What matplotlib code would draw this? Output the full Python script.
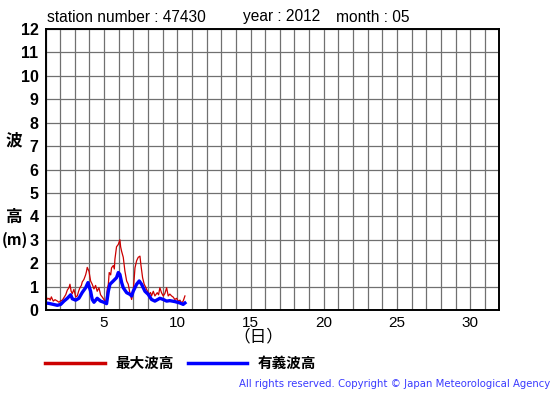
import matplotlib
matplotlib.use("Agg")
import matplotlib.pyplot as plt
from matplotlib.lines import Line2D

plt.rcParams['font.family'] = ['Liberation Sans', 'Noto Sans CJK JP', 'DejaVu Sans']

# Maximum wave height (red)
max_days = [1.0, 1.06, 1.15, 1.24, 1.32, 1.40, 1.53, 1.65, 1.81, 1.92, 2.05, 2.15, 2.28, 2.38, 2.49,
            2.60, 2.67, 2.75, 2.83, 2.94, 3.06, 3.17, 3.26, 3.35, 3.45, 3.51, 3.62, 3.74, 3.80, 3.85,
            3.97, 4.08, 4.19, 4.31, 4.42, 4.53, 4.65, 4.76, 4.88, 4.99, 5.12, 5.22, 5.29, 5.35, 5.45,
            5.51, 5.63, 5.70, 5.74, 5.85, 5.97, 6.08, 6.13, 6.20, 6.31, 6.42, 6.54, 6.65, 6.76, 6.88,
            6.99, 7.11, 7.22, 7.33, 7.45, 7.51, 7.63, 7.74, 7.82, 7.90, 8.08, 8.17, 8.24, 8.36, 8.47,
            8.63, 8.72, 8.81, 8.92, 9.04, 9.15, 9.27, 9.38, 9.49, 9.61, 9.72, 9.83, 9.95, 10.06, 10.18,
            10.29, 10.40, 10.52]
max_vals = [0.55, 0.54, 0.46, 0.50, 0.42, 0.56, 0.38, 0.44, 0.38, 0.33, 0.40, 0.42, 0.55, 0.65, 0.85,
            0.95, 1.10, 0.80, 0.70, 0.88, 0.56, 0.60, 0.80, 0.95, 1.05, 1.20, 1.30, 1.50, 1.65, 1.82,
            1.65, 1.24, 1.10, 0.90, 1.05, 0.80, 0.95, 0.65, 0.55, 0.45, 0.33, 0.90, 1.10, 1.60, 1.50,
            1.80, 1.90, 1.75, 2.17, 2.70, 2.80, 3.00, 2.70, 2.50, 2.25, 1.67, 1.24, 1.10, 0.74, 0.45,
            0.80, 1.80, 2.10, 2.25, 2.30, 1.95, 1.38, 1.10, 1.00, 0.88, 0.67, 0.75, 0.60, 0.80, 0.60,
            0.74, 0.65, 0.95, 0.74, 0.60, 0.70, 0.95, 0.60, 0.68, 0.60, 0.55, 0.45, 0.50, 0.38, 0.42,
            0.30, 0.38, 0.60]

# Significant wave height (blue)
sig_days = [1.0, 1.24, 1.53, 1.81, 2.04, 2.26, 2.49, 2.72, 2.83, 3.06, 3.28, 3.51, 3.74, 3.90, 4.08,
            4.19, 4.31, 4.53, 4.76, 4.99, 5.17, 5.29, 5.40, 5.63, 5.85, 5.97, 6.08, 6.20, 6.31, 6.54,
            6.76, 6.88, 6.99, 7.22, 7.40, 7.56, 7.79, 8.01, 8.24, 8.47, 8.81, 9.04, 9.27, 9.49, 9.83,
            10.18, 10.40, 10.52]
sig_vals = [0.30, 0.28, 0.24, 0.20, 0.24, 0.38, 0.50, 0.65, 0.48, 0.42, 0.50, 0.75, 0.95, 1.17, 0.80,
            0.45, 0.33, 0.50, 0.38, 0.33, 0.27, 0.80, 1.10, 1.24, 1.38, 1.60, 1.52, 1.17, 0.95, 0.74,
            0.67, 0.60, 0.80, 1.10, 1.24, 1.10, 0.80, 0.67, 0.45, 0.38, 0.50, 0.45, 0.38, 0.40, 0.36,
            0.30, 0.24, 0.30]

x_ticks = [5, 10, 15, 20, 25, 30]
y_ticks = list(range(0, 13))

W, H = 555, 395
fig = plt.figure(figsize=(W / 100, H / 100), dpi=100)
ax = fig.add_axes([45.5 / W, 1 - 310 / H, (499.5 - 45.5) / W, (310 - 29) / H])

ax.set_xlim(1, 32)
ax.set_ylim(0, 12)
ax.set_xticks(range(1, 33))
ax.set_yticks(y_ticks)
ax.grid(True, color='#707070', linewidth=0.9)
ax.set_axisbelow(True)
ax.tick_params(length=0)
ax.set_xticklabels([str(d) if d in x_ticks else '' for d in range(1, 33)], fontsize=11)
ax.set_yticklabels([str(v) for v in y_ticks], fontsize=11.5, fontweight='bold')
ax.tick_params(axis='x', pad=4)
ax.tick_params(axis='y', pad=5)
for s in ax.spines.values():
    s.set_linewidth(1.4)
    s.set_color('black')

ax.plot(max_days, max_vals, color='#CC0000', linewidth=0.9)
ax.plot(sig_days, sig_vals, color='#0000FF', linewidth=2.4)

ty = 1 - 17 / H
fig.text(47 / W, ty, 'station number : 47430', fontsize=11.2, va='center', ha='left')
fig.text(243 / W, ty, 'year : 2012', fontsize=11.2, va='center', ha='left')
fig.text(336 / W, ty, 'month : 05', fontsize=11.2, va='center', ha='left')

cjk = ['Noto Sans CJK JP', 'DejaVu Sans']
fig.text(14 / W, 1 - 140 / H, '波', fontsize=12, fontweight='bold', family=cjk, ha='center', va='center')
fig.text(14 / W, 1 - 217 / H, '高', fontsize=12, fontweight='bold', family=cjk, ha='center', va='center')
fig.text(15 / W, 1 - 240 / H, '(m)', fontsize=11, fontweight='bold', family=cjk, ha='center', va='center')
fig.text(258 / W, 1 - 337 / H, '（日）', fontsize=12, family=cjk, ha='center', va='center')

# Legend
fig.add_artist(Line2D([45 / W, 105 / W], [1 - 363 / H, 1 - 363 / H], color='#CC0000', linewidth=2.5))
fig.text(115 / W, 1 - 363 / H, '最大波高', fontsize=10.5, fontweight='bold', family=cjk, ha='left', va='center')
fig.add_artist(Line2D([188 / W, 247 / W], [1 - 363 / H, 1 - 363 / H], color='#0000FF', linewidth=2.5))
fig.text(258 / W, 1 - 363 / H, '有義波高', fontsize=10.5, fontweight='bold', family=cjk, ha='left', va='center')

fig.text(550 / W, 1 - 384 / H, 'All rights reserved. Copyright © Japan Meteorological Agency',
         fontsize=7.3, color='#3a3aff', ha='right', va='center', family=['DejaVu Sans'])

fig.savefig('out.png', dpi=100)
